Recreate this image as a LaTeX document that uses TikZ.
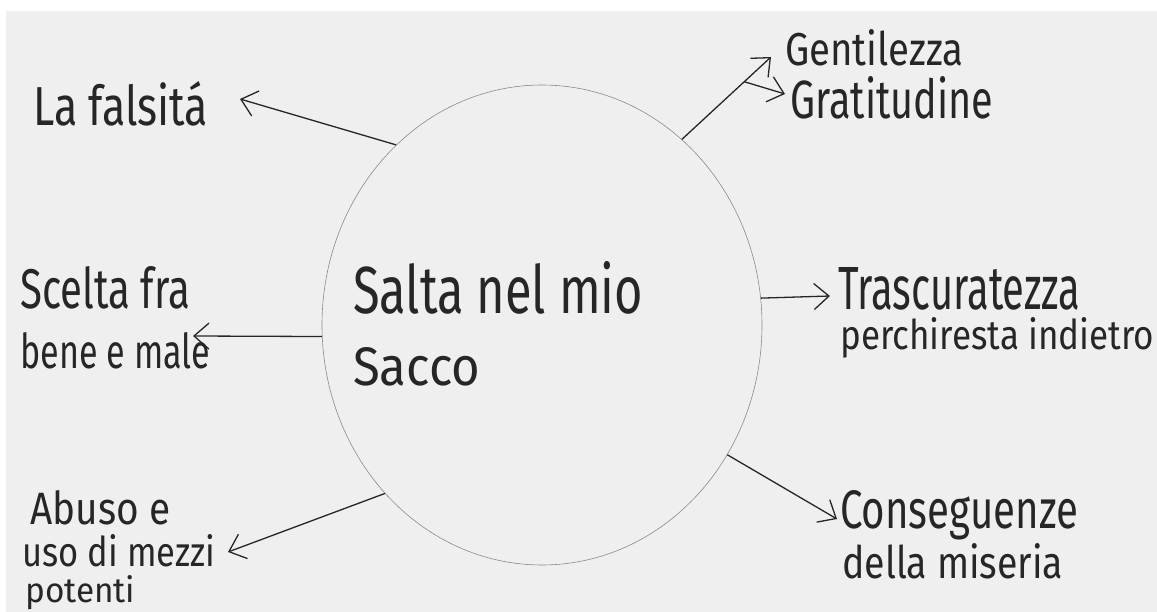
\documentclass[tikz,border=0pt]{standalone}
\usepackage{fontspec}
\setmainfont{Fira Sans}
\usetikzlibrary{arrows.meta,shapes.geometric}
\definecolor{ink}{HTML}{262626}
\definecolor{paper}{HTML}{EFEFEF}
\definecolor{rim}{HTML}{8A8A8A}
\newcommand\fw[3]{\resizebox{#1pt}{#2pt}{#3}}
\begin{document}
\begin{tikzpicture}[x=1pt,y=-1pt,
  lbl/.style={anchor=base west, inner sep=0pt, text=ink, font=\fontsize{30}{36}\selectfont},
  arr/.style={draw=ink, line width=1.3pt, -{Straight Barb[length=15pt,width=26pt,line width=1.3pt]}},
  rimstyle/.style={ellipse, draw=rim, line width=0.6pt, minimum width=440pt, minimum height=480pt, inner sep=0pt}
]
\useasboundingbox (0,0) rectangle (1157,612);
\clip (0,0) rectangle (1157,612);
\fill[white] (0,0) rectangle (1157,612);
\fill[paper] (6,11) rectangle (1157,612);

% central ellipse
\node[rimstyle] (c) at (542,325) {};
\node[lbl] (t1) at (353,314) {\fw{290}{52}{Salta nel mio}};
\node[lbl] (t2) at (353,385) {\fw{127}{38}{Sacco}};

% labels
\node[lbl] (fals) at (33,126) {\fw{175}{44}{La falsitá}};
\node[lbl] (gent) at (785,66) {\fw{178}{36}{Gentilezza}};
\node[lbl] (grat) at (790,119) {\fw{203}{42}{Gratitudine}};
\node[lbl] (sce1) at (20,309) {\fw{170}{42}{Scelta fra}};
\node[lbl] (sce2) at (20,369) {\fw{190}{36}{bene e male}};
\node[lbl] (tra1) at (838,309) {\fw{242}{42}{Trascuratezza}};
\node[lbl] (tra2) at (840,350) {\fw{314}{32}{perchiresta indietro}};
\node[lbl] (abu1) at (30,524) {\fw{140}{34}{Abuso e}};
\node[lbl] (abu2) at (22,566) {\fw{193}{32}{uso di mezzi}};
\node[lbl] (abu3) at (25,602) {\fw{110}{27}{potenti}};
\node[lbl] (con1) at (840,528) {\fw{238}{38}{Conseguenze}};
\node[lbl] (con2) at (842,578) {\fw{221}{35}{della miseria}};

% arrow tips
\coordinate (pf) at (240,99);
\coordinate (pg) at (771,57);
\coordinate (pr) at (785,94);
\coordinate (ps) at (193,336);
\coordinate (pt) at (830,296);
\coordinate (pa) at (228,552);
\coordinate (pc) at (837,519);

% connectors
\draw[arr] (c.129.7) -- (pf);
\draw[arr] (c.53.2) -- coordinate[pos=0.7] (br) (pg);
\draw[arr] (br) -- (pr);
\draw[arr] (c.183.4) -- (ps);
\draw[arr] (c.7) -- (pt);
\draw[arr] (c.227.8) -- (pa);
\draw[arr] (c.325.2) -- (pc);
\end{tikzpicture}
\end{document}
